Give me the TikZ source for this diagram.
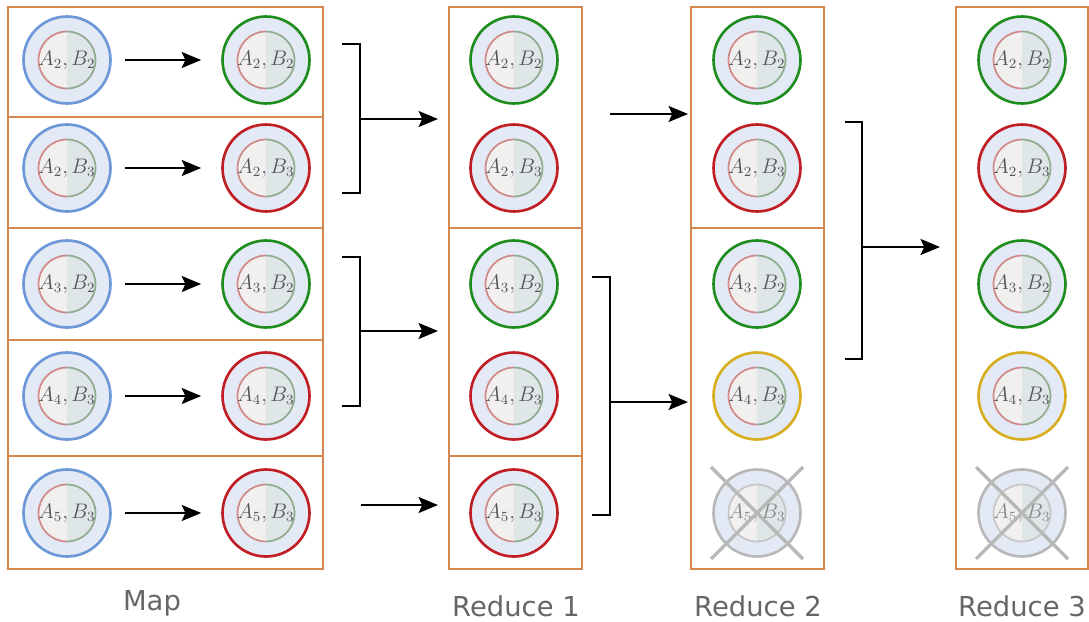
\documentclass[tikz,border=0pt]{standalone}
\usepackage{fontspec}
\usepackage{tikz}
\usetikzlibrary{arrows.meta,positioning,calc}
\newfontfamily\stagefont{DejaVu Sans}
\definecolor{mrblue}{HTML}{6C98D8}
\definecolor{mrgreen}{HTML}{1E8C1E}
\definecolor{mrred}{HTML}{C01E24}
\definecolor{mryellow}{HTML}{D8AE20}
\definecolor{mrgray}{HTML}{B8B8B8}
\definecolor{mrorange}{HTML}{D4874E}
\definecolor{mrouter}{HTML}{E3EAF5}
\definecolor{mrinleft}{HTML}{F1F0EF}
\definecolor{mrinright}{HTML}{DEE6E7}
\definecolor{mrinred}{HTML}{D08B8B}
\definecolor{mringreen}{HTML}{8FAD8F}
\definecolor{mrtext}{HTML}{555555}
\definecolor{mrlabel}{HTML}{666666}

\begin{document}
\begin{tikzpicture}[
    x=0.02cm, y=-0.02cm,
    arrow/.style={-{Stealth[length=11pt, width=9pt, inset=2pt]}, line width=1.5pt, black},
    bracket/.style={line width=1.5pt, black},
    cell/.style={draw=mrorange, line width=1.4pt},
    innerl/.style={draw=mrinred},
    innerr/.style={draw=mringreen},
    pair/.style={circle, draw=#1, line width=1.5pt, fill=mrouter, minimum size=1.74cm, inner sep=0pt, text=mrtext,
        font=\fontsize{11.5}{14}\selectfont,
        path picture={
            \fill[mrinleft] (path picture bounding box.center) ++(0cm,0.57cm) arc[start angle=90, end angle=270, radius=0.57cm] -- cycle;
            \fill[mrinright] (path picture bounding box.center) ++(0cm,-0.57cm) arc[start angle=-90, end angle=90, radius=0.57cm] -- cycle;
            \draw[innerl, line width=1pt] (path picture bounding box.center) ++(0cm,0.57cm) arc[start angle=90, end angle=270, radius=0.57cm];
            \draw[innerr, line width=1pt] (path picture bounding box.center) ++(0cm,-0.57cm) arc[start angle=-90, end angle=90, radius=0.57cm];
        }},
    dropped/.style={pair=mrgray, text=mrtext!70, innerl/.style={draw=mrgray!80}, innerr/.style={draw=mrgray!80}},
    cross/.style={line width=1.9pt, mrgray},
    stage/.style={font=\stagefont\fontsize{15.6}{18}\selectfont, text=mrlabel}
]
    \useasboundingbox (0,0) rectangle (1089,622);

    % column frames
    \draw[cell] (8,7) rectangle (323,569);
    \draw[cell] (8,117) -- (323,117);
    \draw[cell] (8,228) -- (323,228);
    \draw[cell] (8,340) -- (323,340);
    \draw[cell] (8,456) -- (323,456);
    \draw[cell] (449,7) rectangle (582,569);
    \draw[cell] (449,228) -- (582,228);
    \draw[cell] (449,456) -- (582,456);
    \draw[cell] (691,7) rectangle (824,569);
    \draw[cell] (691,228) -- (824,228);
    \draw[cell] (956,7) rectangle (1088,569);

    % map
    \node[pair=mrblue] (m1in) at (67,60) {$A_2,B_2$};
    \node[pair=mrblue] (m2in) at (67,168) {$A_2,B_3$};
    \node[pair=mrblue] (m3in) at (67,284) {$A_3,B_2$};
    \node[pair=mrblue] (m4in) at (67,396) {$A_4,B_3$};
    \node[pair=mrblue] (m5in) at (67,513) {$A_5,B_3$};
    \node[pair=mrgreen] (m1out) at (266,60) {$A_2,B_2$};
    \node[pair=mrred] (m2out) at (266,168) {$A_2,B_3$};
    \node[pair=mrgreen] (m3out) at (266,284) {$A_3,B_2$};
    \node[pair=mrred] (m4out) at (266,396) {$A_4,B_3$};
    \node[pair=mrred] (m5out) at (266,513) {$A_5,B_3$};

    % reduce 1
    \node[pair=mrgreen] (r1a) at (514,60) {$A_2,B_2$};
    \node[pair=mrred] (r1b) at (514,168) {$A_2,B_3$};
    \node[pair=mrgreen] (r1c) at (514,284) {$A_3,B_2$};
    \node[pair=mrred] (r1d) at (514,396) {$A_4,B_3$};
    \node[pair=mrred] (r1e) at (514,513) {$A_5,B_3$};

    % reduce 2
    \node[pair=mrgreen] (r2a) at (757,60) {$A_2,B_2$};
    \node[pair=mrred] (r2b) at (757,168) {$A_2,B_3$};
    \node[pair=mrgreen] (r2c) at (757,284) {$A_3,B_2$};
    \node[pair=mryellow] (r2d) at (757,396) {$A_4,B_3$};
    \node[dropped] (r2e) at (757,513) {$A_5,B_3$};

    % reduce 3
    \node[pair=mrgreen] (r3a) at (1022,60) {$A_2,B_2$};
    \node[pair=mrred] (r3b) at (1022,168) {$A_2,B_3$};
    \node[pair=mrgreen] (r3c) at (1022,284) {$A_3,B_2$};
    \node[pair=mryellow] (r3d) at (1022,396) {$A_4,B_3$};
    \node[dropped] (r3e) at (1022,513) {$A_5,B_3$};

    \draw[cross] ($(r2e)+(-46,-46)$) -- ($(r2e)+(46,46)$);
    \draw[cross] ($(r2e)+(46,-46)$) -- ($(r2e)+(-46,46)$);
    \draw[cross] ($(r3e)+(-46,-46)$) -- ($(r3e)+(46,46)$);
    \draw[cross] ($(r3e)+(46,-46)$) -- ($(r3e)+(-46,46)$);

    \draw[arrow, shorten <=0.26cm, shorten >=0.4cm] (m1in) -- (m1out);
    \draw[arrow, shorten <=0.26cm, shorten >=0.4cm] (m2in) -- (m2out);
    \draw[arrow, shorten <=0.26cm, shorten >=0.4cm] (m3in) -- (m3out);
    \draw[arrow, shorten <=0.26cm, shorten >=0.4cm] (m4in) -- (m4out);
    \draw[arrow, shorten <=0.26cm, shorten >=0.4cm] (m5in) -- (m5out);

    % map -> reduce 1
    \coordinate (b1top) at (342,44);
    \coordinate (b1bot) at (342,193);
    \coordinate (b1mid) at (360,119);
    \coordinate (b1end) at (438,119);
    \draw[bracket] (b1top) -| (b1mid) |- (b1bot);
    \draw[arrow] (b1mid) -- (b1end);
    \coordinate (b2top) at (342,257);
    \coordinate (b2bot) at (342,406);
    \coordinate (b2mid) at (360,331);
    \coordinate (b2end) at (438,331);
    \draw[bracket] (b2top) -| (b2mid) |- (b2bot);
    \draw[arrow] (b2mid) -- (b2end);
    \coordinate (s1start) at (361,505);
    \coordinate (s1end) at (438,505);
    \draw[arrow] (s1start) -- (s1end);

    % reduce 1 -> reduce 2
    \coordinate (s2start) at (610,114);
    \coordinate (s2end) at (688,114);
    \draw[arrow] (s2start) -- (s2end);
    \coordinate (b3top) at (592,277);
    \coordinate (b3bot) at (592,515);
    \coordinate (b3mid) at (610,402);
    \coordinate (b3end) at (688,402);
    \draw[bracket] (b3top) -| (b3mid) |- (b3bot);
    \draw[arrow] (b3mid) -- (b3end);

    % reduce 2 -> reduce 3
    \coordinate (b4top) at (845,122);
    \coordinate (b4bot) at (845,359);
    \coordinate (b4mid) at (862,247);
    \coordinate (b4end) at (940,247);
    \draw[bracket] (b4top) -| (b4mid) |- (b4bot);
    \draw[arrow] (b4mid) -- (b4end);

    \node[stage] (mapname) at (152,603) {Map};
    \node[stage] (red1name) at (516,606) {Reduce 1};
    \node[stage] (red2name) at (758,606) {Reduce 2};
    \node[stage] (red3name) at (1022,606) {Reduce 3};
\end{tikzpicture}
\end{document}
